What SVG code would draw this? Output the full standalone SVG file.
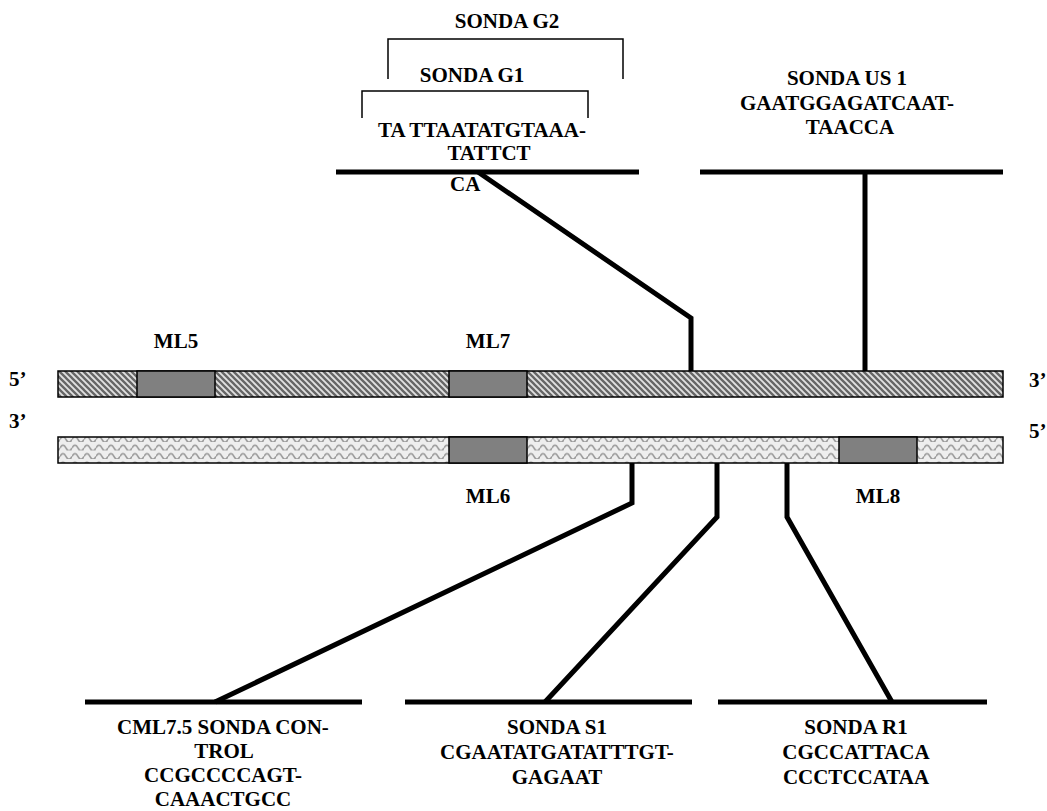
<svg xmlns="http://www.w3.org/2000/svg" width="1047" height="811" viewBox="0 0 1047 811">
<style>
text{font-family:"Liberation Serif","Times New Roman",serif;font-weight:bold;font-size:21px;fill:#000}
.c{text-anchor:middle}
.conn{fill:none;stroke:#000;stroke-width:5;stroke-linejoin:miter}
.probe{fill:none;stroke:#000;stroke-width:5}
.brk{fill:none;stroke:#000;stroke-width:1.5}
.box{stroke:#000;stroke-width:1.5}
.ml{fill:#808080;stroke:#000;stroke-width:1.5}
</style>
<defs>
<pattern id="diag" patternUnits="userSpaceOnUse" width="6" height="6">
<rect width="6" height="6" fill="#e0e0e0"/>
<path d="M-1,-1 L7,7 M-1,5 L1,7 M5,-1 L7,1" stroke="#666" stroke-width="2.3"/>
</pattern>
<pattern id="wave" patternUnits="userSpaceOnUse" width="12" height="8.5">
<rect width="12" height="8.5" fill="#eeeeee"/>
<path d="M0,6 Q3,0.5 6,6 T12,6" fill="none" stroke="#999" stroke-width="1.6"/>
</pattern>
</defs>
<g id="strand-top">
<rect class="box" x="58" y="371" width="945" height="26" fill="url(#diag)"/>
</g>
<g id="strand-bottom">
<rect class="box" x="58" y="437" width="945" height="26" fill="url(#wave)"/>
</g>
<g id="ML5"><rect class="ml" x="137" y="371" width="78" height="26"/><text class="c" x="176" y="348">ML5</text></g>
<g id="ML7"><rect class="ml" x="449" y="371" width="78" height="26"/><text class="c" x="488" y="348">ML7</text></g>
<g id="ML6"><rect class="ml" x="449" y="437" width="78" height="26"/><text class="c" x="488" y="503">ML6</text></g>
<g id="ML8"><rect class="ml" x="839" y="437" width="78" height="26"/><text class="c" x="878" y="503">ML8</text></g>
<g id="ends">
<text x="9" y="386">5’</text>
<text x="9" y="428">3’</text>
<text x="1029" y="387">3’</text>
<text x="1029" y="438">5’</text>
</g>
<g id="probe-G">
<line class="probe" x1="336" y1="172" x2="639" y2="172"/>
<path class="brk" d="M388,79 V39 H623 V79"/>
<path class="brk" d="M362,118 V91 H588 V118"/>
<text class="c" x="507" y="28">SONDA G2</text>
<text class="c" x="472" y="82">SONDA G1</text>
<text class="c" x="482" y="137">TA TTAATATGTAAA-</text>
<text class="c" x="489" y="160">TATTCT</text>
<text x="450" y="191">CA</text>
</g>
<g id="probe-US1">
<line class="probe" x1="700" y1="172" x2="1003" y2="172"/>
<text class="c" x="847" y="85">SONDA US 1</text>
<text class="c" x="847" y="110">GAATGGAGATCAAT-</text>
<text class="c" x="850" y="134">TAACCA</text>
</g>
<g id="probe-control">
<line class="probe" x1="85" y1="702" x2="362" y2="702"/>
<text class="c" x="223" y="734">CML7.5 SONDA CON-</text>
<text class="c" x="224" y="758">TROL</text>
<text class="c" x="223" y="782">CCGCCCCAGT-</text>
<text class="c" x="223" y="806">CAAACTGCC</text>
</g>
<g id="probe-S1">
<line class="probe" x1="405" y1="702" x2="692" y2="702"/>
<text class="c" x="557" y="734">SONDA S1</text>
<text class="c" x="557" y="759">CGAATATGATATTTGT-</text>
<text class="c" x="557" y="784">GAGAAT</text>
</g>
<g id="probe-R1">
<line class="probe" x1="718" y1="702" x2="987" y2="702"/>
<text class="c" x="856" y="734">SONDA R1</text>
<text class="c" x="856" y="759">CGCCATTACA</text>
<text class="c" x="856" y="784">CCCTCCATAA</text>
</g>
<g id="connectors">
<path class="conn" d="M478,172 L691,318 V371"/>
<path class="conn" d="M865,172 V371"/>
<path class="conn" d="M632,463 V503 L215,702"/>
<path class="conn" d="M717,463 V517 L545,702"/>
<path class="conn" d="M787,463 V517 L892,702"/>
</g>
</svg>
